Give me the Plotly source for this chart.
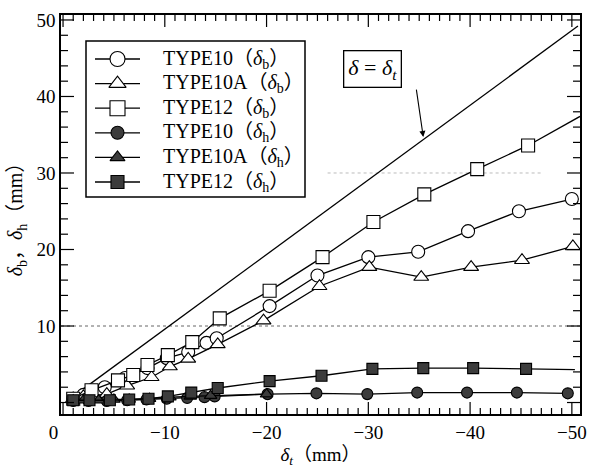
import plotly.graph_objects as go

# --- measured data (deltas in mm; delta_t is negative) ---
t10_b_x = [-1.0, -2.0, -4.1, -6.1, -8.3, -10.2, -12.3, -14.1, -15.1, -20.3, -25.0, -30.0, -34.9, -39.8, -44.8, -50.0]
t10_b_y = [0.5, 1.0, 2.0, 3.2, 4.5, 5.8, 6.6, 7.8, 8.4, 12.6, 16.6, 19.0, 19.7, 22.4, 25.0, 26.6]

t10a_b_x = [-1.0, -2.0, -4.3, -6.3, -8.7, -10.5, -12.3, -15.2, -19.7, -25.2, -30.1, -35.2, -40.1, -45.1, -50.1]
t10a_b_y = [0.5, 0.8, 1.1, 2.2, 3.3, 4.7, 5.7, 7.6, 10.7, 15.2, 17.7, 16.4, 17.7, 18.6, 20.4]

t12_b_x = [-1.0, -2.8, -5.4, -6.9, -8.3, -10.3, -12.7, -15.4, -20.3, -25.5, -30.5, -35.5, -40.7, -45.7]
t12_b_y = [0.5, 1.6, 2.9, 3.6, 4.9, 6.2, 7.9, 11.0, 14.6, 19.0, 23.6, 27.2, 30.5, 33.6]
t12_b_tail = (-50.8, 37.4)

t10_h_x = [-1.0, -2.5, -4.3, -6.3, -8.2, -10.2, -12.2, -13.9, -14.9, -20.1, -24.9, -29.9, -34.8, -39.7, -44.6, -49.6]
t10_h_y = [0.2, 0.2, 0.2, 0.3, 0.4, 0.5, 0.6, 0.7, 0.8, 1.1, 1.2, 1.1, 1.3, 1.3, 1.3, 1.2]

t10a_h_x = [-1.0, -2.0, -3.5, -5.0, -6.5, -8.5, -10.5, -12.5, -14.5, -20.0]
t10a_h_y = [0.3, 0.3, 0.3, 0.4, 0.4, 0.5, 0.7, 0.8, 0.9, 1.1]

t12_h_x = [-1.0, -2.6, -4.6, -6.5, -8.4, -10.3, -12.6, -15.2, -20.3, -25.4, -30.4, -35.4, -40.3, -45.5]
t12_h_y = [0.3, 0.3, 0.3, 0.4, 0.5, 0.8, 1.3, 1.9, 2.8, 3.5, 4.4, 4.5, 4.5, 4.4]
t12_h_tail = (-50.3, 4.3)

ref_x = [-1.2, -50.6]          # delta = delta_t guide line
ref_y = [1.0, 49.2]

x_tickvals = [0, -10, -20, -30, -40, -50]
x_ticktext = ["0\u00a0\u00a0\u00a0\u00a0", "−10", "−20", "−30", "−40", "−50"]
y_tickvals = [10, 20, 30, 40, 50]

legend_names = [
    "TYPE10（<i>δ</i><sub>b</sub>）",
    "TYPE10A（<i>δ</i><sub>b</sub>）",
    "TYPE12（<i>δ</i><sub>b</sub>）",
    "TYPE10（<i>δ</i><sub>h</sub>）",
    "TYPE10A（<i>δ</i><sub>h</sub>）",
    "TYPE12（<i>δ</i><sub>h</sub>）",
]

SERIF = "Liberation Serif, DejaVu Serif, Noto Sans CJK JP, serif"
LINE = dict(color="black", width=1.3)
OPEN = dict(color="white", line=dict(color="black", width=1.1))
FILLED = dict(color="#3c3c3c", line=dict(color="black", width=1.1))

styles = [("circle", OPEN, 13), ("triangle-up", OPEN, 13), ("square", OPEN, 13),
          ("circle", FILLED, 11), ("triangle-up", FILLED, 11), ("square", FILLED, 11)]
series = [(t10_b_x, t10_b_y), (t10a_b_x, t10a_b_y), (t12_b_x, t12_b_y),
          (t10_h_x, t10_h_y), (t10a_h_x, t10a_h_y), (t12_h_x, t12_h_y)]

X_RANGE = [0.2, -50.8]
Y_RANGE = [-1.5, 50.65]
PLOT_W, PLOT_H = 519, 399          # plot area in pixels

fig = go.Figure()

# reference line delta = delta_t
fig.add_trace(go.Scatter(x=ref_x, y=ref_y, mode="lines", line=LINE,
                         showlegend=False, hoverinfo="skip"))

# TYPE12 lines run on to the right frame
fig.add_trace(go.Scatter(x=[t12_b_x[-1], t12_b_tail[0]], y=[t12_b_y[-1], t12_b_tail[1]],
                         mode="lines", line=LINE, showlegend=False))
fig.add_trace(go.Scatter(x=[t12_h_x[-1], t12_h_tail[0]], y=[t12_h_y[-1], t12_h_tail[1]],
                         mode="lines", line=LINE, showlegend=False))

for (x, y), name, (sym, sty, size) in zip(series, legend_names, styles):
    fig.add_trace(go.Scatter(x=x, y=y, name=name, mode="lines+markers", line=LINE,
                             marker=dict(symbol=sym, size=size, **sty), showlegend=False))

# inward tick marks on all four sides, as short segments (pixel length -> axis units)
px_x = (X_RANGE[0] - X_RANGE[1]) / PLOT_W     # x units per pixel
px_y = (Y_RANGE[1] - Y_RANGE[0]) / PLOT_H     # y units per pixel
tx, ty = [], []
for v in range(0, 51):
    ln = (12 if v % 10 == 0 else 6) * px_y
    tx += [-v, -v, None, -v, -v, None]
    ty += [Y_RANGE[0], Y_RANGE[0] + ln, None, Y_RANGE[1], Y_RANGE[1] - ln, None]
for v in range(0, 51, 2):
    ln = (13 if v % 10 == 0 else 7) * px_x
    tx += [X_RANGE[0], X_RANGE[0] - ln, None, X_RANGE[1], X_RANGE[1] + ln, None]
    ty += [v, v, None, v, v, None]
fig.add_trace(go.Scatter(x=tx, y=ty, mode="lines", line=dict(color="black", width=1.2),
                         showlegend=False, hoverinfo="skip", connectgaps=False))

# --- legend box, laid out in plot-area pixels (y downwards) ---
LEG_BOX = (25, 26, 244, 182)
LEG_ROW0, LEG_STEP = 44, 24.6
LEG_LINE = (34, 79)
LEG_TEXT_X = 100

shapes = [
    dict(type="line", xref="x", yref="y", x0=X_RANGE[0], x1=X_RANGE[1], y0=10, y1=10,
         line=dict(color="#666666", width=1, dash="dot"), layer="below"),
    dict(type="line", xref="x", yref="y", x0=-26, x1=-47, y0=30, y1=30,
         line=dict(color="#bbbbbb", width=1, dash="dot"), layer="below"),
    dict(type="rect", xref="paper", yref="paper",
         x0=LEG_BOX[0] / PLOT_W, x1=LEG_BOX[2] / PLOT_W,
         y0=1 - LEG_BOX[1] / PLOT_H, y1=1 - LEG_BOX[3] / PLOT_H,
         line=dict(color="black", width=1.5), fillcolor="rgba(0,0,0,0)", layer="above"),
]

for i, (name, (sym, sty, size)) in enumerate(zip(legend_names, styles)):
    yy = LEG_ROW0 + i * LEG_STEP
    fig.add_trace(go.Scatter(x=list(LEG_LINE), y=[yy, yy], mode="lines", line=LINE,
                             xaxis="x2", yaxis="y2", showlegend=False, hoverinfo="skip"))
    fig.add_trace(go.Scatter(x=[sum(LEG_LINE) / 2], y=[yy], mode="markers",
                             marker=dict(symbol=sym, size=size + 2, **sty),
                             xaxis="x2", yaxis="y2", showlegend=False, hoverinfo="skip"))
    fig.add_annotation(x=LEG_TEXT_X, y=yy, xref="x2", yref="y2", text=name,
                       showarrow=False, xanchor="left", yanchor="middle",
                       font=dict(family=SERIF, size=20, color="black"))

# label box and arrow pointing at the reference line
fig.add_annotation(x=-30.45, y=43.6, xref="x", yref="y", showarrow=False,
                   text="<i>δ</i> = <i>δ</i><sub><i>t</i></sub>",
                   font=dict(family=SERIF, size=22, color="black"),
                   bordercolor="black", borderwidth=1.3, borderpad=4, bgcolor="white")
fig.add_annotation(x=-35.4, y=34.7, ax=-34.7, ay=41.1, xref="x", yref="y",
                   axref="x", ayref="y", text="", showarrow=True,
                   arrowhead=2, arrowsize=1.1, arrowwidth=1.1, arrowcolor="black")

fig.update_layout(
    template="none",
    width=593, height=468,
    margin=dict(l=61, r=13, t=15, b=54, autoexpand=False),
    paper_bgcolor="white", plot_bgcolor="white",
    font=dict(family=SERIF, color="black"),
    showlegend=False,
    shapes=shapes,
    xaxis=dict(
        range=X_RANGE, tickmode="array", tickvals=x_tickvals, ticktext=x_ticktext,
        ticks="", showline=True, linewidth=1.5, linecolor="black", mirror=True,
        showgrid=False, zeroline=False, automargin=False,
        tickfont=dict(family=SERIF, size=19, color="black"),
        title=dict(text="<i>δ</i><sub><i>t</i></sub>（mm）",
                   font=dict(family=SERIF, size=19, color="black"), standoff=10)),
    yaxis=dict(
        range=Y_RANGE, tickmode="array", tickvals=y_tickvals,
        ticks="", showline=True, linewidth=1.5, linecolor="black", mirror=True,
        showgrid=False, zeroline=False, automargin=False,
        tickfont=dict(family=SERIF, size=19, color="black"),
        title=dict(text="<i>δ</i><sub>b</sub>，<i>δ</i><sub>h</sub>（mm）",
                   font=dict(family=SERIF, size=20, color="black"), standoff=8)),
    xaxis2=dict(overlaying="x", range=[0, PLOT_W], visible=False, fixedrange=True),
    yaxis2=dict(overlaying="y", range=[PLOT_H, 0], visible=False, fixedrange=True),
)

fig.write_html("out.html")
